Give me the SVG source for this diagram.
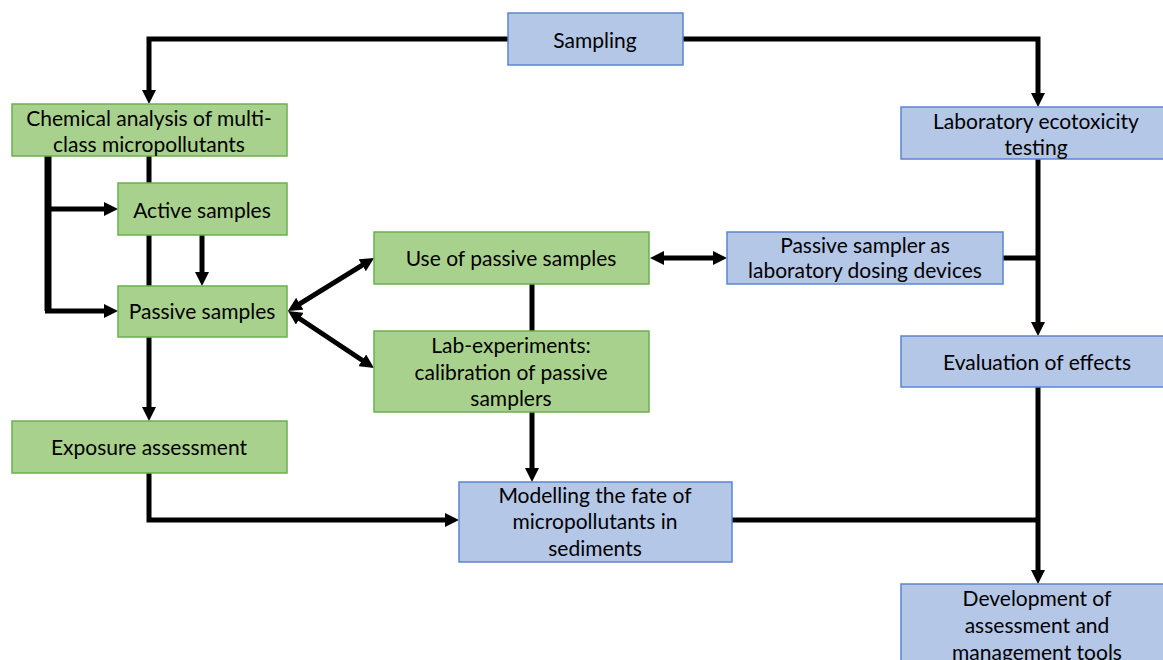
<svg xmlns="http://www.w3.org/2000/svg" width="1163" height="660" viewBox="0 0 1163 660">
<style>
.g{fill:#A9D18E;stroke:#6AB04C;stroke-width:1.5}
.b{fill:#B4C7E7;stroke:#5B85D0;stroke-width:1.5}
text{font-family:Lato,"Liberation Sans",sans-serif;font-size:21px;fill:#000;text-anchor:middle;dominant-baseline:central}
.c{fill:none;stroke:#000;stroke-width:5}
.a{marker-end:url(#ah)}
.d{marker-end:url(#ah);marker-start:url(#ah)}
</style>
<defs>
<marker id="ah" markerUnits="userSpaceOnUse" markerWidth="14" markerHeight="14" refX="4" refY="7" orient="auto-start-reverse" viewBox="0 0 14 14">
<path d="M0,0 L14,7 L0,14 z" fill="#000"/>
</marker>
</defs>
<g id="connectors">
<path class="c a" d="M508,39 H149 V94"/>
<path class="c a" d="M683,39 H1038 V97"/>
<path class="c" style="stroke-width:7" d="M48,154 V311"/>
<path class="c a" d="M45,311 H108"/>
<path class="c a" d="M48,209 H108"/>
<path class="c a" d="M149,156 V411"/>
<path class="c a" d="M202,235 V276"/>
<path class="c d" d="M296.4,305.8 L365.6,263.2"/>
<path class="c d" d="M296.4,316.5 L365.6,362.5"/>
<path class="c a" d="M532,284 V472"/>
<path class="c d" d="M660,258 H717"/>
<path class="c" d="M1003,258 H1038"/>
<path class="c a" d="M1038,159 V326"/>
<path class="c a" d="M149,473 V520 H449"/>
<path class="c a" d="M1038,387 V574"/>
<path class="c" d="M732,520 H1038"/>
</g>
<g id="sampling"><rect class="b" x="508" y="13" width="175" height="52"/><text x="595" y="39">Sampling</text></g>
<g id="chemical"><rect class="g" x="12" y="104" width="275" height="52"/><text x="149" y="117">Chemical analysis of multi-</text><text x="149" y="143">class micropollutants</text></g>
<g id="active"><rect class="g" x="118" y="183" width="169" height="52"/><text x="202" y="209">Active samples</text></g>
<g id="passive"><rect class="g" x="118" y="286" width="169" height="51"/><text x="202" y="310">Passive samples</text></g>
<g id="exposure"><rect class="g" x="12" y="421" width="275" height="52"/><text x="149" y="446">Exposure assessment</text></g>
<g id="use-passive"><rect class="g" x="374" y="232" width="275" height="52"/><text x="511" y="257">Use of passive samples</text></g>
<g id="lab-exp"><rect class="g" x="374" y="331" width="275" height="81"/><text x="511" y="344">Lab-experiments:</text><text x="511" y="371">calibration of passive</text><text x="511" y="397">samplers</text></g>
<g id="sampler-dosing"><rect class="b" x="727" y="232" width="276" height="52"/><text x="865" y="244">Passive sampler as</text><text x="865" y="269">laboratory dosing devices</text></g>
<g id="lab-ecotox"><rect class="b" x="901" y="107" width="263" height="52"/><text x="1036" y="120">Laboratory ecotoxicity</text><text x="1036" y="146">testing</text></g>
<g id="evaluation"><rect class="b" x="901" y="336" width="263" height="51"/><text x="1037" y="361">Evaluation of effects</text></g>
<g id="modelling"><rect class="b" x="459" y="482" width="273" height="80"/><text x="595" y="494">Modelling the fate of</text><text x="595" y="520">micropollutants in</text><text x="595" y="547">sediments</text></g>
<g id="development"><rect class="b" x="901" y="584" width="263" height="90"/><text x="1037" y="597">Development of</text><text x="1037" y="624">assessment and</text><text x="1037" y="651">management tools</text></g>
</svg>
